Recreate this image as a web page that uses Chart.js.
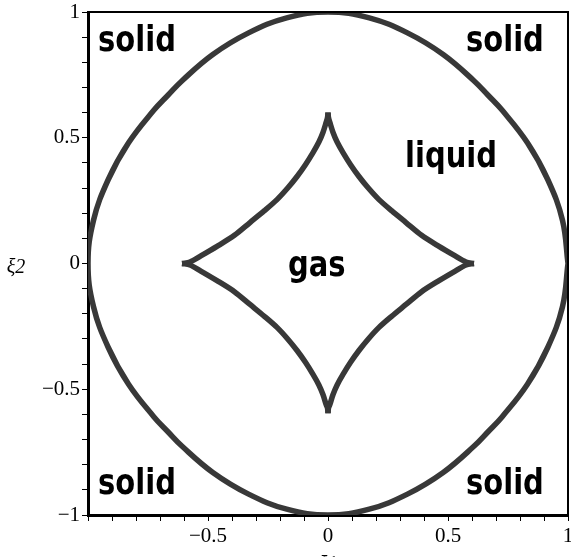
<!DOCTYPE html>
<html>
<head>
<meta charset="utf-8">
<script src="https://cdn.jsdelivr.net/npm/chart.js@4"></script>
<style>
  html, body { margin: 0; padding: 0; background: #fff; }
  #wrap { width: 571px; height: 557px; position: relative; }
</style>
</head>
<body>
<div id="wrap"><canvas id="c"></canvas></div>
<script>
// Outer frozen boundary (closed loop, counter-clockwise from (1,0))
const outerCurve = [
  [1, 0], [0.977, 0.172], [0.916, 0.333], [0.831, 0.480], [0.726, 0.609], [0.668, 0.668],
  [0.609, 0.726], [0.480, 0.831], [0.333, 0.916], [0.172, 0.977], [0, 1],
  [-0.172, 0.977], [-0.333, 0.916], [-0.480, 0.831], [-0.609, 0.726], [-0.668, 0.668],
  [-0.726, 0.609], [-0.831, 0.480], [-0.916, 0.333], [-0.977, 0.172], [-1, 0],
  [-0.977, -0.172], [-0.916, -0.333], [-0.831, -0.480], [-0.726, -0.609], [-0.668, -0.668],
  [-0.609, -0.726], [-0.480, -0.831], [-0.333, -0.916], [-0.172, -0.977], [0, -1],
  [0.172, -0.977], [0.333, -0.916], [0.480, -0.831], [0.609, -0.726], [0.668, -0.668],
  [0.726, -0.609], [0.831, -0.480], [0.916, -0.333], [0.977, -0.172], [1, 0]
];

// Gas bubble boundary: four concave arcs between the cusps
const gasArcNW = [
  [-0.608, 0], [-0.575, 0.006], [-0.530, 0.030], [-0.4625, 0.068], [-0.390, 0.112],
  [-0.325, 0.163], [-0.265, 0.210], [-0.2125, 0.254], [-0.168, 0.300], [-0.129, 0.346],
  [-0.094, 0.393], [-0.0625, 0.441], [-0.038, 0.483], [-0.021, 0.521], [-0.008, 0.560],
  [-0.002, 0.580], [0, 0.600]
];
const gasArcSW = [
  [-0.608, 0], [-0.575, -0.006], [-0.530, -0.030], [-0.4625, -0.068], [-0.390, -0.112],
  [-0.325, -0.163], [-0.265, -0.210], [-0.2125, -0.254], [-0.168, -0.300], [-0.129, -0.346],
  [-0.094, -0.393], [-0.0625, -0.441], [-0.038, -0.483], [-0.021, -0.521], [-0.008, -0.560],
  [-0.002, -0.575], [0, -0.595]
];
const gasArcNE = [
  [0.608, 0], [0.575, 0.006], [0.530, 0.030], [0.4625, 0.068], [0.390, 0.112],
  [0.325, 0.163], [0.265, 0.210], [0.2125, 0.254], [0.168, 0.300], [0.129, 0.346],
  [0.094, 0.393], [0.0625, 0.441], [0.038, 0.483], [0.021, 0.521], [0.008, 0.560],
  [0.002, 0.580], [0, 0.600]
];
const gasArcSE = [
  [0.608, 0], [0.575, -0.006], [0.530, -0.030], [0.4625, -0.068], [0.390, -0.112],
  [0.325, -0.163], [0.265, -0.210], [0.2125, -0.254], [0.168, -0.300], [0.129, -0.346],
  [0.094, -0.393], [0.0625, -0.441], [0.038, -0.483], [0.021, -0.521], [0.008, -0.560],
  [0.002, -0.575], [0, -0.595]
];

// Labelled ticks
const xTickValues = [-0.5, 0, 0.5, 1];
const xTickLabels = ['\u22120.5', '0', '0.5', '1'];
const yTickValues = [-1, -0.5, 0, 0.5, 1];
const yTickLabels = ['\u22121', '\u22120.5', '0', '0.5', '1'];

// Phase names and their anchor (left end of baseline, data units)
const phaseNames = ['solid', 'solid', 'solid', 'solid', 'liquid', 'gas'];
const phaseAnchors = [[-0.958, 0.843], [0.575, 0.843], [-0.958, -0.915], [0.575, -0.915], [0.321, 0.382], [-0.167, -0.048]];

const toPts = arr => arr.map(([x, y]) => ({ x, y }));
const labelFor = (v, values, labels) => {
  const i = values.findIndex(t => Math.abs(t - v) < 1e-9);
  return i < 0 ? '' : labels[i];
};

const curveStyle = { borderColor: '#383838', borderWidth: 5.5, pointRadius: 0, showLine: true, fill: false };

const decorations = {
  id: 'decorations',
  afterDraw(chart) {
    const { ctx, chartArea: a, scales: { x, y } } = chart;
    ctx.save();
    // box: top and right edges
    ctx.strokeStyle = '#000';
    ctx.lineWidth = 2;
    ctx.beginPath();
    ctx.moveTo(a.left, a.top);
    ctx.lineTo(a.right, a.top);
    ctx.lineTo(a.right, a.bottom);
    ctx.stroke();

    // phase names
    ctx.fillStyle = '#000';
    ctx.font = 'bold 29px "DejaVu Sans"';
    ctx.textAlign = 'left';
    ctx.textBaseline = 'alphabetic';
    phaseNames.forEach((t, i) => {
      const px = x.getPixelForValue(phaseAnchors[i][0]);
      const py = y.getPixelForValue(phaseAnchors[i][1]);
      ctx.save();
      ctx.translate(px, py);
      ctx.scale(1, 1.25);
      ctx.fillText(t, 0, 0);
      ctx.restore();
    });

    // axis titles
    ctx.font = 'italic 20px "Liberation Serif"';
    ctx.textAlign = 'center';
    ctx.textBaseline = 'middle';
    ctx.fillText('\u03BE2', 16, y.getPixelForValue(0) + 4);
    ctx.textBaseline = 'top';
    ctx.fillText('\u03BE1', x.getPixelForValue(0), 555);
    ctx.restore();
  }
};

const tickFont = { family: '"Liberation Serif", "Times New Roman", serif', size: 21 };

new Chart(document.getElementById('c'), {
  type: 'scatter',
  data: {
    datasets: [
      { data: toPts(outerCurve), tension: 0.4, ...curveStyle },
      { data: toPts(gasArcNW), tension: 0.3, ...curveStyle },
      { data: toPts(gasArcSW), tension: 0.3, ...curveStyle },
      { data: toPts(gasArcNE), tension: 0.3, ...curveStyle },
      { data: toPts(gasArcSE), tension: 0.3, ...curveStyle }
    ]
  },
  options: {
    responsive: true,
    maintainAspectRatio: false,
    animation: false,
    layout: { autoPadding: false, padding: { top: 12, right: 3, left: 0, bottom: 0 } },
    plugins: { legend: { display: false }, tooltip: { enabled: false } },
    scales: {
      x: {
        type: 'linear', min: -1, max: 1, position: 'bottom',
        afterFit(s) { s.height = 42; s.paddingLeft = 0; s.paddingRight = 0; },
        ticks: {
          stepSize: 0.1, autoSkip: false, maxRotation: 0, padding: 3, color: '#000', font: tickFont,
          callback: v => labelFor(v, xTickValues, xTickLabels)
        },
        grid: { drawOnChartArea: false, drawTicks: true, tickLength: 6, color: '#000', lineWidth: 1 },
        border: { display: true, color: '#000', width: 3 }
      },
      y: {
        type: 'linear', min: -1, max: 1, position: 'left',
        afterFit(s) { s.width = 88; s.paddingTop = 0; s.paddingBottom = 0; },
        ticks: {
          stepSize: 0.1, autoSkip: false, padding: 2, color: '#000', font: tickFont,
          callback: v => labelFor(v, yTickValues, yTickLabels)
        },
        grid: { drawOnChartArea: false, drawTicks: true, tickLength: 6, color: '#000', lineWidth: 1 },
        border: { display: true, color: '#000', width: 3 }
      }
    }
  },
  plugins: [decorations]
});
</script>
</body>
</html>
